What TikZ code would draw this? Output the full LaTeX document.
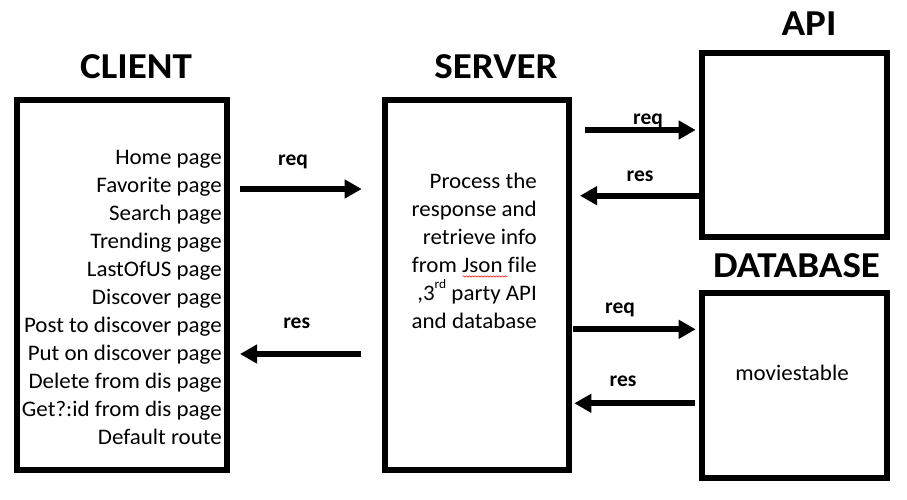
\documentclass[tikz,border=0pt]{standalone}
\usepackage{fontspec}
\setmainfont{Carlito}
\newfontfamily\bodyfont[FakeStretch=1.035, Ligatures=NoCommon]{Carlito}
\newfontfamily\titlefont[FakeStretch=1.07]{Carlito}
\usetikzlibrary{arrows.meta,calc,decorations.pathmorphing}
\begin{document}
\begin{tikzpicture}[x=1pt,y=-1pt,
 box/.style={draw, line width=6pt, outer sep=0pt, inner sep=0pt},
 title/.style={font=\titlefont\fontsize{36.5}{40}\selectfont\bfseries, anchor=base, inner sep=0pt},
 txt/.style={font=\bodyfont\fontsize{22.2}{28}\selectfont, inner sep=0pt, anchor=base east},
 lbl/.style={font=\fontsize{21.5}{28}\selectfont\bfseries, anchor=base, inner sep=0pt},
 arr/.style={line width=6pt, -{Triangle[length=17pt,width=18pt]}}]
\useasboundingbox (0,0) rectangle (907,499);
% boxes
\node[box, minimum width=209.5pt, minimum height=369.5pt] (client) at (121.75,284.75) {};
\node[box, minimum width=184.5pt, minimum height=369.5pt] (server) at (476.75,284.75) {};
\node[box, minimum width=184.7pt, minimum height=184pt] (api) at (794.35,145) {};
\node[box, minimum width=184.7pt, minimum height=184.8pt] (db) at (794.35,385.1) {};
% titles
\node[title] (tclient) at (136,78) {CLIENT};
\node[title] (tserver) at (496,78) {SERVER};
\node[title] (tapi) at (809,35.7) {API};
\node[title] (tdb) at (796.5,277.7) {DATABASE};
% client list
\foreach [count=\i] \t in {Home page, Favorite page, Search page, Trending page, LastOfUS page, Discover page, Post to discover page, Put on discover page, Delete from dis page, Get?:id from dis page, Default route}
  \node[txt] (c\i) at (222,{136+28*\i}) {\t};
% server text
\node[txt] (s1) at (537,188) {Process the};
\node[txt] (s2) at (537,216) {response and};
\node[txt] (s3) at (537,244) {retrieve info};
\node[txt] (s4) at (537,272) {from Json file};
\node[txt] (s5) at (537,300) {,3\raisebox{0.5em}{\fontsize{13}{14}\selectfont rd} party API};
\node[txt] (s6) at (537,328) {and database};
\draw[red, line width=0.5pt, decorate, decoration={snake, amplitude=0.7pt, segment length=3pt}] (462.5,276.5) -- (507.5,276.5);
% db text
\node[font=\bodyfont\fontsize{22.2}{28}\selectfont, inner sep=0pt, anchor=base] (mt) at (792,380) {moviestable};
% arrows
\coordinate (y1) at (0,189);
\coordinate (y2) at (0,354);
\coordinate (y3) at (0,130);
\coordinate (y4) at (0,195.7);
\coordinate (y5) at (0,329.3);
\coordinate (y6) at (0,403.3);
\draw[arr] ($(client.east |- y1)+(13.5,0)$) -- ($(server.west |- y1)+(-22.8,0)$);
\draw[arr] ($(server.west |- y2)+(-23.8,0)$) -- ($(client.east |- y2)+(13.5,0)$);
\draw[arr] ($(server.east |- y3)+(16,0)$) -- ($(api.west |- y3)+(-6.3,0)$);
\draw[arr] ($(api.west |- y4)$) -- ($(server.east |- y4)+(11,0)$);
\draw[arr] ($(server.east |- y5)+(4,0)$) -- ($(db.west |- y5)+(-6.3,0)$);
\draw[arr] ($(db.west |- y6)+(-7,0)$) -- ($(server.east |- y6)+(5.3,0)$);
% labels
\node[lbl] (l1) at (293,165) {req};
\node[lbl] (l2) at (296.7,328) {res};
\node[lbl] (l3) at (648,124) {req};
\node[lbl] (l4) at (640,181.7) {res};
\node[lbl] (l5) at (620,313) {req};
\node[lbl] (l6) at (623,386.7) {res};
\end{tikzpicture}
\end{document}
